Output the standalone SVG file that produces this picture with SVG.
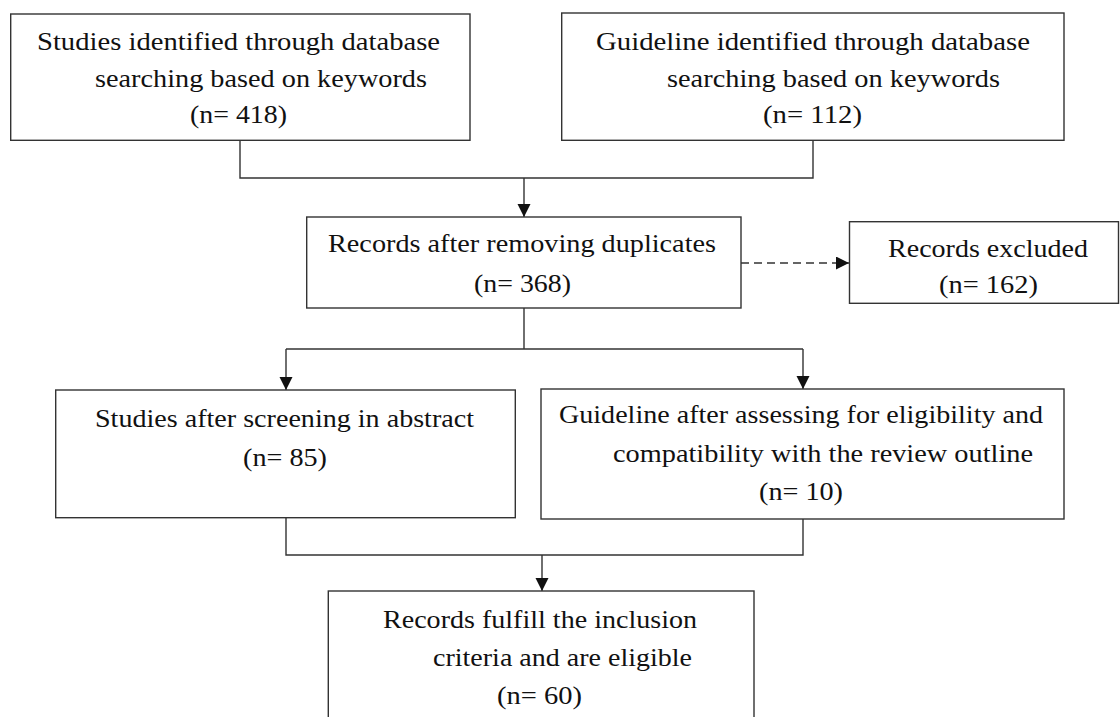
<svg xmlns="http://www.w3.org/2000/svg" width="1120" height="717" viewBox="0 0 1120 717">
<style>
.box{fill:#fff;stroke:#333;stroke-width:1.4}
.t{font-family:"Liberation Serif","Times New Roman",serif;font-size:26px;fill:#111}
.c{fill:none;stroke:#333;stroke-width:1.4}
.d{fill:none;stroke:#333;stroke-width:1.4;stroke-dasharray:8 5}
</style>
<defs>
<marker id="ah" markerUnits="userSpaceOnUse" markerWidth="14" markerHeight="14" refX="13" refY="6.5" orient="auto">
<path d="M0,0 L13,6.5 L0,13 z" fill="#111"/>
</marker>
</defs>
<rect width="1120" height="717" fill="#fff"/>
<g id="connectors">
<path class="c" d="M240,140 V178 H813 V140"/>
<path class="c" d="M524,178 V217" marker-end="url(#ah)"/>
<path class="d" d="M741,263 H849" marker-end="url(#ah)"/>
<path class="c" d="M524,308 V349"/>
<path class="c" d="M286,349 H803"/>
<path class="c" d="M286,349 V390" marker-end="url(#ah)"/>
<path class="c" d="M803,349 V389" marker-end="url(#ah)"/>
<path class="c" d="M286,518 V555 H803 V519"/>
<path class="c" d="M542,555 V591" marker-end="url(#ah)"/>
</g>
<g id="studies-identified">
<rect class="box" x="10.7" y="14" width="459.3" height="126.3"/>
<text class="t" x="37" y="50" textLength="403" lengthAdjust="spacingAndGlyphs">Studies identified through database</text>
<text class="t" x="95" y="87" textLength="332" lengthAdjust="spacingAndGlyphs">searching based on keywords</text>
<text class="t" x="190" y="123" textLength="97" lengthAdjust="spacingAndGlyphs">(n= 418)</text>
</g>
<g id="guideline-identified">
<rect class="box" x="561.7" y="13" width="502.3" height="127.3"/>
<text class="t" x="596" y="50" textLength="434" lengthAdjust="spacingAndGlyphs">Guideline identified through database</text>
<text class="t" x="667" y="87" textLength="333" lengthAdjust="spacingAndGlyphs">searching based on keywords</text>
<text class="t" x="763" y="123" textLength="99" lengthAdjust="spacingAndGlyphs">(n= 112)</text>
</g>
<g id="records-dedup">
<rect class="box" x="306.7" y="217" width="434.3" height="91"/>
<text class="t" x="328" y="252" textLength="388" lengthAdjust="spacingAndGlyphs">Records after removing duplicates</text>
<text class="t" x="474" y="292" textLength="97" lengthAdjust="spacingAndGlyphs">(n= 368)</text>
</g>
<g id="records-excluded">
<rect class="box" x="849.5" y="221.7" width="269" height="81.6"/>
<text class="t" x="888" y="257" textLength="200" lengthAdjust="spacingAndGlyphs">Records excluded</text>
<text class="t" x="939" y="293" textLength="99" lengthAdjust="spacingAndGlyphs">(n= 162)</text>
</g>
<g id="studies-screened">
<rect class="box" x="55.7" y="390" width="459.6" height="127.7"/>
<text class="t" x="95" y="427" textLength="379" lengthAdjust="spacingAndGlyphs">Studies after screening in abstract</text>
<text class="t" x="243" y="466" textLength="84" lengthAdjust="spacingAndGlyphs">(n= 85)</text>
</g>
<g id="guideline-assessed">
<rect class="box" x="541" y="389" width="523" height="130"/>
<text class="t" x="559" y="423" textLength="484" lengthAdjust="spacingAndGlyphs">Guideline after assessing for eligibility and</text>
<text class="t" x="613" y="462" textLength="420" lengthAdjust="spacingAndGlyphs">compatibility with the review outline</text>
<text class="t" x="759" y="500" textLength="84" lengthAdjust="spacingAndGlyphs">(n= 10)</text>
</g>
<g id="records-eligible">
<rect class="box" x="328.3" y="591" width="425.7" height="140"/>
<text class="t" x="383" y="628" textLength="314" lengthAdjust="spacingAndGlyphs">Records fulfill the inclusion</text>
<text class="t" x="433" y="666" textLength="259" lengthAdjust="spacingAndGlyphs">criteria and are eligible</text>
<text class="t" x="497" y="704" textLength="85" lengthAdjust="spacingAndGlyphs">(n= 60)</text>
</g>
</svg>
